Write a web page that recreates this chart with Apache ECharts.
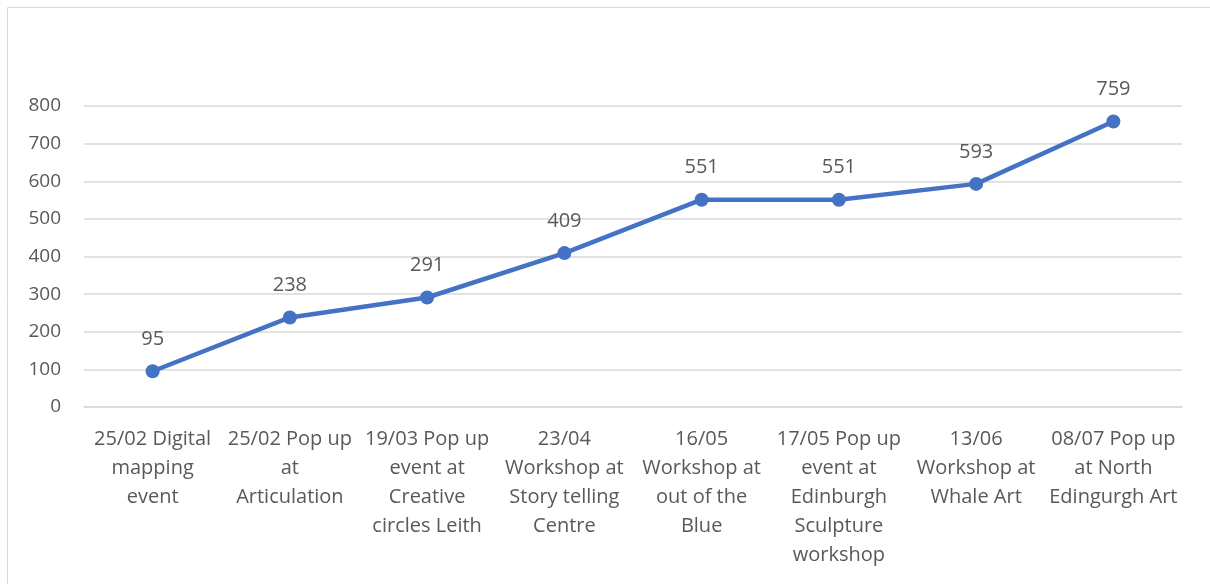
<!DOCTYPE html>
<html lang="en">
<head>
  <meta charset="UTF-8">
  <title>Chart</title>
  <style>
    html, body { margin: 0; padding: 0; background: #fff; }
    #chart { width: 1210px; height: 584px; }
  </style>
  <script src="https://cdn.jsdelivr.net/npm/echarts@6/dist/echarts.min.js"></script>
</head>
<body>
  <div id="chart"></div>
  <script>
    // categories (line breaks follow the wrapping in the picture)
    var categories = [
      '25/02 Digital\nmapping\nevent',
      '25/02 Pop up\nat\nArticulation',
      '19/03 Pop up\nevent at\nCreative\ncircles Leith',
      '23/04\nWorkshop at\nStory telling\nCentre',
      '16/05\nWorkshop at\nout of the\nBlue',
      '17/05 Pop up\nevent at\nEdinburgh\nSculpture\nworkshop',
      '13/06\nWorkshop at\nWhale Art',
      '08/07 Pop up\nat North\nEdingurgh Art'
    ];
    var values = [95, 238, 291, 409, 551, 551, 593, 759];
    var yMin = 0, yMax = 800, yStep = 100;

    var txt = '#595959';
    var font = '"Open Sans", "Liberation Sans", sans-serif';

    var myChart = echarts.init(document.getElementById('chart'));
    var option = {
      animation: false,
      textStyle: { fontFamily: font },
      graphic: [{
        type: 'rect',
        shape: { x: 7.5, y: 7.5, width: 1220, height: 600 },
        style: { fill: 'none', stroke: '#d9d9d9', lineWidth: 1 },
        silent: true
      }],
      grid: { left: 84, right: 28, top: 106, bottom: 177, containLabel: false },
      xAxis: {
        type: 'category',
        data: categories,
        boundaryGap: true,
        axisLine: { lineStyle: { color: '#d9d9d9', width: 1.5 } },
        axisTick: { show: false },
        axisLabel: {
          interval: 0,
          color: txt,
          fontSize: 20,
          lineHeight: 29,
          margin: 18,
          align: 'center',
          fontFamily: font
        }
      },
      yAxis: {
        type: 'value',
        min: yMin,
        max: yMax,
        interval: yStep,
        axisLine: { show: false },
        axisTick: { show: false },
        splitLine: { lineStyle: { color: '#d9d9d9', width: 1.5 } },
        axisLabel: { color: txt, fontSize: 19, margin: 23, fontFamily: font }
      },
      series: [{
        type: 'line',
        data: values,
        symbol: 'circle',
        symbolSize: 14,
        lineStyle: { color: '#4472c4', width: 4.5 },
        itemStyle: { color: '#4472c4' },
        label: {
          show: true,
          position: 'top',
          distance: 15,
          color: txt,
          fontSize: 20,
          fontFamily: font
        }
      }]
    };
    myChart.setOption(option);
  </script>
</body>
</html>
